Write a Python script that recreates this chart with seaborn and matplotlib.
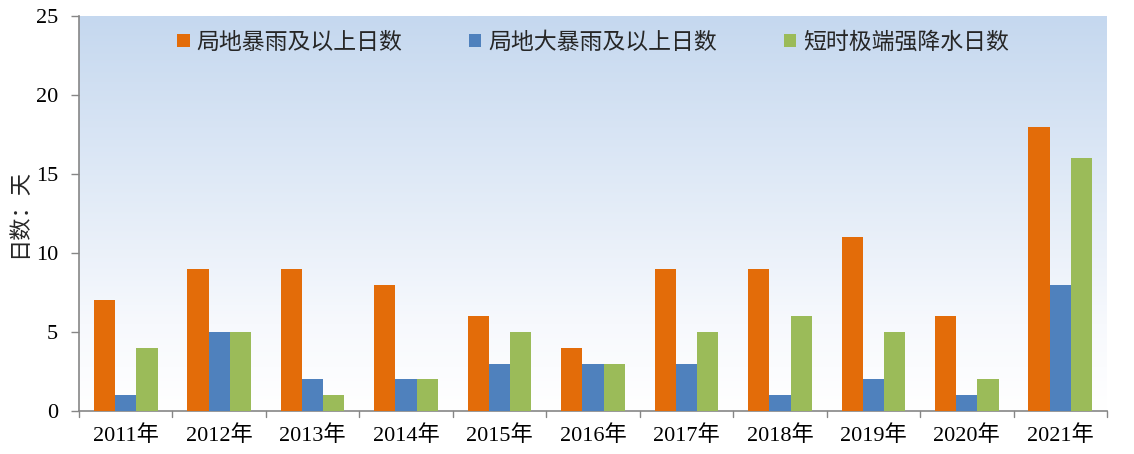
import numpy as np
import pandas as pd
import matplotlib
matplotlib.use("Agg")
import matplotlib.pyplot as plt
import seaborn as sns
from matplotlib.colors import LinearSegmentedColormap
from matplotlib.patches import Patch

years = ["2011年", "2012年", "2013年", "2014年", "2015年", "2016年",
         "2017年", "2018年", "2019年", "2020年", "2021年"]
series_names = ["局地暴雨及以上日数", "局地大暴雨及以上日数", "短时极端强降水日数"]
rain_days = [7, 9, 9, 8, 6, 4, 9, 9, 11, 6, 18]
heavy_rain_days = [1, 5, 2, 2, 3, 3, 3, 1, 2, 1, 8]
extreme_days = [4, 5, 1, 2, 5, 3, 5, 6, 5, 2, 16]
colors = ["#E36C09", "#4F81BD", "#9BBB59"]

df = pd.DataFrame({
    "year": years * 3,
    "series": [series_names[0]] * 11 + [series_names[1]] * 11 + [series_names[2]] * 11,
    "value": rain_days + heavy_rain_days + extreme_days,
})

sns.set_theme(style="white")
plt.rcParams["font.family"] = ["Liberation Serif", "Noto Sans CJK SC"]
plt.rcParams["axes.unicode_minus"] = False

fig = plt.figure(figsize=(11.34, 4.54), dpi=100)
ax = fig.add_axes([79 / 1134, 1 - 411 / 454, (1107 - 79) / 1134, (411 - 16) / 454])

sns.barplot(data=df, x="year", y="value", hue="series", palette=colors,
            width=0.68, ax=ax, legend=False, zorder=3, linewidth=0, saturation=1)

ax.set_xlim(-0.5, len(years) - 0.5)
ax.set_ylim(0, 25)

# gradient background
cmap = LinearSegmentedColormap.from_list("bg", [(0, "#ffffff"), (0.22, "#f7f9fd"), (1, "#c5d8ef")])
grad = np.linspace(0, 1, 256).reshape(-1, 1)
ax.imshow(grad, cmap=cmap, aspect="auto", origin="lower",
          extent=[-0.5, len(years) - 0.5, 0, 25], zorder=0)

ax.set_yticks([0, 5, 10, 15, 20, 25])
ax.set_xticks(np.arange(len(years)))
ax.set_xticklabels(years)
ax.tick_params(axis="both", labelsize=16, colors="black")
ax.tick_params(axis="y", length=6, width=1, color="#868686", direction="out", left=True, pad=9)
ax.tick_params(axis="x", length=0, pad=10)
# tick marks between categories
for b in np.arange(-0.5, len(years) + 0.5, 1.0):
    ax.plot([b, b], [0, -0.4], color="#868686", lw=1, clip_on=False, zorder=4)

for s in ["top", "right"]:
    ax.spines[s].set_visible(False)
for s in ["left", "bottom"]:
    ax.spines[s].set_color("#868686")
    ax.spines[s].set_linewidth(1.2)

ax.set_xlabel("")
ax.set_ylabel("日数：天", fontsize=16, va="center")
ax.yaxis.set_label_coords(-0.058, 0.5)
ax.grid(False)

handles = [Patch(facecolor=c, edgecolor="none") for c in colors]
ax.legend(handles, series_names, loc="upper center", bbox_to_anchor=(0.5, 1.0),
          ncol=3, frameon=False, fontsize=16.5, handlelength=0.55, handleheight=0.55,
          handletextpad=0.3, columnspacing=2.9, borderaxespad=0.3)

fig.savefig("out.png", dpi=100)
